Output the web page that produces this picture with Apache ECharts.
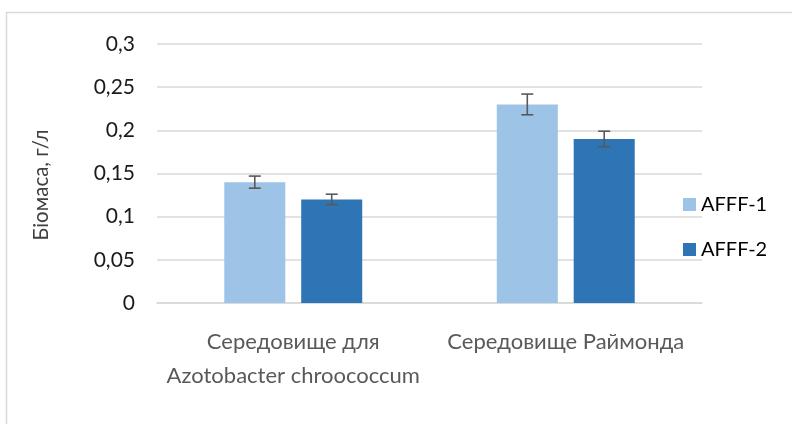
<!DOCTYPE html>
<html><head><meta charset="utf-8">
<script src="https://cdn.jsdelivr.net/npm/echarts@6/dist/echarts.min.js"></script>
<style>html,body{margin:0;padding:0;background:#fff}#c{width:792px;height:424px}</style>
</head><body><div id="c"></div>
<script>
const categories = ['Середовище для\nAzotobacter chroococcum', 'Середовище Раймонда'];
const seriesNames = ['AFFF-1', 'AFFF-2'];
const afff1 = [0.14, 0.23];
const afff2 = [0.12, 0.19];
const err1 = [0.007, 0.012];
const err2 = [0.006, 0.009];
const yTitle = 'Біомаса, г/л';

const FONT = 'Lato';
const BW = 0.224, GAP = 0.26;
function errSeries(vals, errs, sign) {
  return {
    type: 'custom', silent: true, z: 5,
    data: vals.map((v, i) => [i, v, errs[i]]),
    renderItem: function (params, api) {
      const i = api.value(0), v = api.value(1), e = api.value(2);
      const c = api.coord([i, v]);
      const cw = api.size([1, 0])[0];
      const x = c[0] + sign * cw * BW * (1 + GAP) / 2;
      const yt = api.coord([i, v + e])[1], yb = api.coord([i, v - e])[1];
      const st = { stroke: '#595959', lineWidth: 1.6 };
      return { type: 'group', children: [
        { type: 'line', shape: { x1: x, y1: yt, x2: x, y2: yb }, style: st },
        { type: 'line', shape: { x1: x - 6, y1: yt, x2: x + 6, y2: yt }, style: st },
        { type: 'line', shape: { x1: x - 6, y1: yb, x2: x + 6, y2: yb }, style: st }
      ]};
    }
  };
}
const chart = echarts.init(document.getElementById('c'), null, { renderer: 'canvas' });
chart.setOption({
  animation: false,
  textStyle: { fontFamily: FONT },
  grid: { left: 157, right: 90, top: 44, bottom: 121 },
  graphic: [
    { type: 'rect', shape: { x: 6.5, y: 12.5, width: 820, height: 430 }, style: { fill: 'none', stroke: '#D9D9D9', lineWidth: 1.5 }, z: -1 },
    { type: 'text', x: 41, y: 185, rotation: Math.PI / 2, style: { text: yTitle, fontFamily: FONT, fontSize: 20.5, fill: '#404040', align: 'center', verticalAlign: 'middle' } }
  ],
  legend: {
    orient: 'vertical', left: 678, top: 189, itemWidth: 13, itemHeight: 13, itemGap: 24,
    icon: 'rect', data: seriesNames,
    textStyle: { fontFamily: FONT, fontSize: 20, color: '#000', lineHeight: 21, padding: [0, 0, 0, 0] }
  },
  xAxis: {
    type: 'category', data: categories,
    axisLine: { lineStyle: { color: '#D9D9D9', width: 1.5 } },
    axisTick: { show: false },
    axisLabel: { interval: 0, margin: 22, fontFamily: FONT, fontSize: 22, color: '#595959', lineHeight: 34 }
  },
  yAxis: {
    type: 'value', min: 0, max: 0.3, interval: 0.05,
    axisLine: { show: false }, axisTick: { show: false },
    splitLine: { lineStyle: { color: '#D9D9D9', width: 1.5 } },
    axisLabel: { margin: 22, fontFamily: FONT, fontSize: 21, color: '#1a1a1a',
      formatter: v => String(+v.toFixed(2)).replace('.', ',') }
  },
  series: [
    { name: seriesNames[0], type: 'bar', data: afff1, barWidth: (BW * 100) + '%', barGap: (GAP * 100) + '%', itemStyle: { color: '#9DC3E6' } },
    { name: seriesNames[1], type: 'bar', data: afff2, barWidth: (BW * 100) + '%', itemStyle: { color: '#2E75B6' } },
    errSeries(afff1, err1, -1),
    errSeries(afff2, err2, 1)
  ]
});
</script></body></html>
